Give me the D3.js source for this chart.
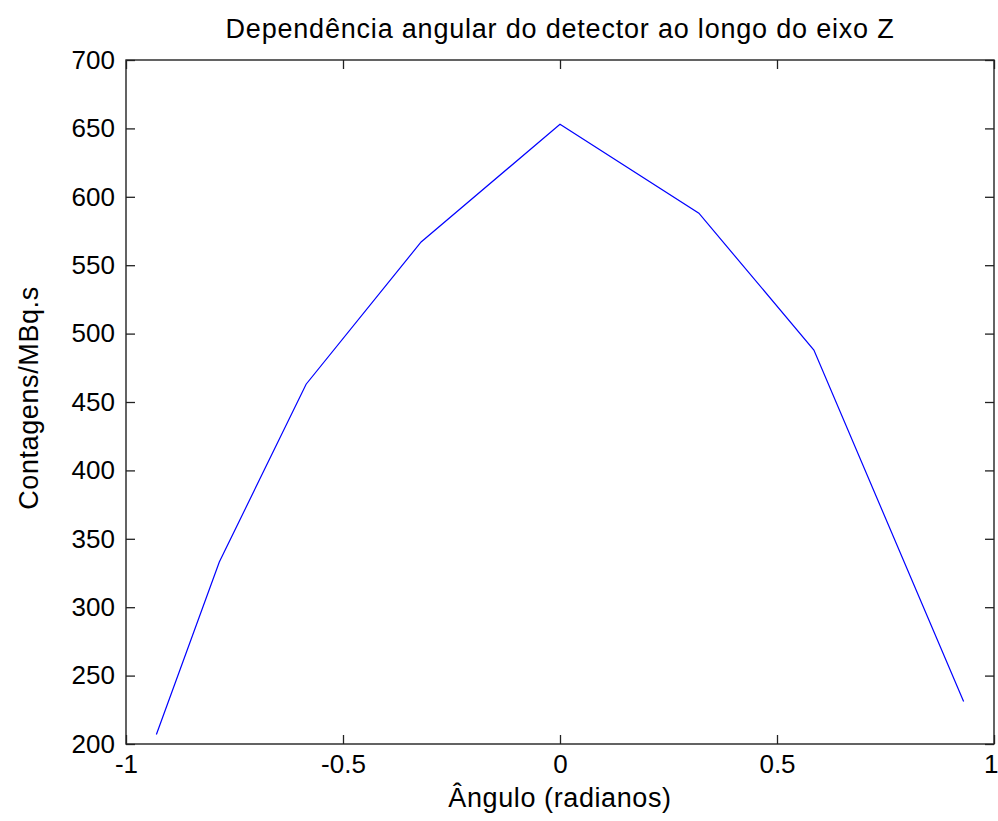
<!DOCTYPE html>
<html>
<head>
<meta charset="utf-8">
<script src="https://cdn.jsdelivr.net/npm/d3@7"></script>
<style>
  html, body { margin: 0; padding: 0; background: #fff; }
  svg text { font-family: "Liberation Sans", Arial, Helvetica, sans-serif; fill: #000; }
</style>
</head>
<body>
<svg id="chart" width="998" height="821"></svg>
<script>
// Measured detector response versus angle
const angles = [-0.93, -0.785, -0.585, -0.32, 0, 0.32, 0.585, 0.93];
const counts = [207, 333, 463, 567, 653, 588, 488, 231];

const xTicks = [-1, -0.5, 0, 0.5, 1];
const yTicks = [200, 250, 300, 350, 400, 450, 500, 550, 600, 650, 700];

const titleText = "Dependência angular do detector ao longo do eixo Z";
const xLabelText = "Ângulo (radianos)";
const yLabelText = "Contagens/MBq.s";

const W = 998, H = 821;
const m = { left: 126, right: 4, top: 60, bottom: 77 };
const pw = W - m.left - m.right, ph = H - m.top - m.bottom;

const svg = d3.select("#chart");
const g = svg.append("g").attr("transform", `translate(${m.left},${m.top})`);

const x = d3.scaleLinear().domain([-1, 1]).range([0, pw]);
const y = d3.scaleLinear().domain([200, 700]).range([ph, 0]);

const tickLen = 9;
const fmt = d => String(d);

// Bottom and left axes with inward ticks
const xAxis = g.append("g").attr("transform", `translate(0,${ph})`)
  .call(d3.axisBottom(x).tickValues(xTicks).tickFormat(fmt).tickSizeInner(-tickLen).tickSizeOuter(0).tickPadding(11));
const yAxis = g.append("g")
  .call(d3.axisLeft(y).tickValues(yTicks).tickFormat(fmt).tickSizeInner(-tickLen).tickSizeOuter(0).tickPadding(11));
// Top and right mirrored ticks
const xTop = g.append("g")
  .call(d3.axisTop(x).tickValues(xTicks).tickFormat("").tickSizeInner(-tickLen).tickSizeOuter(0));
const yRight = g.append("g").attr("transform", `translate(${pw},0)`)
  .call(d3.axisRight(y).tickValues(yTicks).tickFormat("").tickSizeInner(-tickLen).tickSizeOuter(0));

[xAxis, yAxis, xTop, yRight].forEach(a => {
  a.select(".domain").remove();
  a.selectAll("line").attr("stroke", "#222").attr("stroke-width", 1.3);
  a.selectAll("text").style("font-size", "26px").attr("fill", "#000");
});

// Keep the last x tick label inside the page edge
xAxis.selectAll(".tick text").filter(d => d === xTicks[xTicks.length - 1])
  .attr("text-anchor", "end").attr("x", W - m.left - pw);

// Box
g.append("rect").attr("x", 0).attr("y", 0).attr("width", pw).attr("height", ph)
  .attr("fill", "none").attr("stroke", "#222").attr("stroke-width", 1.4);

// Data line
const line = d3.line().x((d, i) => x(angles[i])).y(d => y(d));
g.append("path").datum(counts)
  .attr("d", line)
  .attr("fill", "none")
  .attr("stroke", "#0000ff")
  .attr("stroke-width", 1.2);

// Title and axis labels
const labelStyle = sel => sel.style("font-size", "27px").style("letter-spacing", "0.6px");
svg.append("text").attr("x", m.left + pw / 2).attr("y", 38)
  .attr("text-anchor", "middle").call(labelStyle).style("letter-spacing", "0.8px").text(titleText);
svg.append("text").attr("x", m.left + pw / 2).attr("y", 807)
  .attr("text-anchor", "middle").call(labelStyle).text(xLabelText);
svg.append("text")
  .attr("transform", `translate(38,${m.top + ph / 2 - 4}) rotate(-90)`)
  .attr("text-anchor", "middle").call(labelStyle).text(yLabelText);
</script>
</body>
</html>
